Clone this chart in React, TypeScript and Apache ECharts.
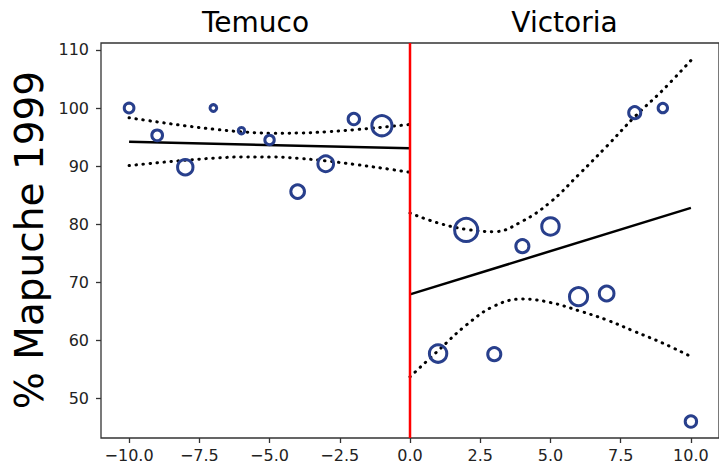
import React, { useEffect, useRef } from 'react';
import * as echarts from 'echarts';

// ---- data ----
const xTicks = [-10, -7.5, -5, -2.5, 0, 2.5, 5, 7.5, 10];
const yTicks = [50, 60, 70, 80, 90, 100, 110];

const temucoX = [-10, -9, -8, -7, -6, -5, -4, -3, -2, -1];
const temucoY = [100, 95.3, 89.8, 100, 96.1, 94.5, 85.6, 90.4, 98.1, 96.95];
const temucoW = [9.7, 10.7, 15.4, 6.7, 6.4, 9.4, 13.7, 15.7, 11.4, 20.1];

const victoriaX = [1, 2, 3, 4, 5, 6, 7, 8, 9, 10];
const victoriaY = [57.7, 79.0, 57.6, 76.2, 79.6, 67.5, 68.05, 99.2, 100, 46.0];
const victoriaW = [17.4, 23.1, 13.1, 13.1, 17.4, 18.1, 14.7, 12.1, 9.4, 11.4];

const fitTX = [-10, 0];
const fitTY = [94.2, 93.05];
const bandTX = [-10, -9, -8, -7, -6, -5, -4, -3, -2, -1, 0];
const bandTUpper = [98.32, 97.61, 96.94, 96.36, 95.91, 95.67, 95.68, 95.9, 96.25, 96.69, 97.17];
const bandTLower = [90.08, 90.57, 91.0, 91.36, 91.57, 91.58, 91.34, 90.9, 90.31, 89.65, 88.93];

const fitVX = [0, 10];
const fitVY = [67.9, 82.8];
const bandVX = [0, 1, 2, 3, 4, 5, 6, 7, 8, 9, 10];
const bandVUpper = [81.9, 80.2, 79.1, 78.7, 80.5, 83.8, 88.5, 93.4, 98.5, 103.1, 108.2];
const bandVLower = [53.7, 58.2, 62.6, 65.9, 67.1, 66.5, 65.1, 63.5, 61.5, 59.5, 57.2];

const X_MIN = -11;
const X_MAX = 11;
const Y_MIN = 43.16;
const Y_MAX = 111.2;

const FONT = '"DejaVu Sans", sans-serif';
const BLUE = '#283f8c';

const zip = (xs: number[], ys: number[]) => xs.map((x, i) => [x, ys[i]]);

const fmtX = (v: number) => (v < 0 ? '\u2212' : '') + Math.abs(v).toFixed(1);

export default function App() {
  const ref = useRef<HTMLDivElement>(null);
  useEffect(() => {
    const chart = echarts.init(ref.current!, null, { renderer: 'svg' });
    const dotted = {
      color: '#000',
      width: 3,
      type: [0.5, 6.5] as number[],
      cap: 'round' as const,
    };
    const option: any = {
      animation: false,
      grid: {
        left: 101,
        top: 43,
        right: -1,
        bottom: 29,
        show: true,
        borderColor: '#333',
        borderWidth: 1.3,
        backgroundColor: 'transparent',
      },
      xAxis: {
        type: 'value',
        min: X_MIN,
        max: X_MAX,
        splitLine: { show: false },
        axisLine: { show: false, onZero: false },
        axisTick: {
          show: true,
          customValues: xTicks,
          length: 5,
          lineStyle: { color: '#333', width: 1.3 },
        },
        axisLabel: {
          customValues: xTicks,
          formatter: fmtX,
          fontFamily: FONT,
          fontSize: 16,
          color: '#222',
          margin: 9,
        },
      },
      yAxis: {
        type: 'value',
        min: Y_MIN,
        max: Y_MAX,
        splitLine: { show: false },
        axisLine: { show: false, onZero: false },
        axisTick: {
          show: true,
          customValues: yTicks,
          length: 5,
          lineStyle: { color: '#333', width: 1.3 },
        },
        axisLabel: {
          customValues: yTicks,
          fontFamily: FONT,
          fontSize: 16,
          color: '#222',
          margin: 12,
        },
      },
      graphic: [
        {
          type: 'text',
          x: 255.5,
          y: 22,
          style: {
            text: 'Temuco',
            font: `28px ${FONT}`,
            fill: '#000',
            textAlign: 'center',
            textVerticalAlign: 'middle',
          },
        },
        {
          type: 'text',
          x: 564.5,
          y: 22,
          style: {
            text: 'Victoria',
            font: `28px ${FONT}`,
            fill: '#000',
            textAlign: 'center',
            textVerticalAlign: 'middle',
          },
        },
        {
          type: 'text',
          x: 29,
          y: 240,
          rotation: Math.PI / 2,
          style: {
            text: '% Mapuche 1999',
            font: `39px ${FONT}`,
            fill: '#000',
            textAlign: 'center',
            textVerticalAlign: 'middle',
          },
        },
      ],
      series: [
        {
          type: 'line',
          data: zip(bandTX, bandTUpper),
          smooth: 0.4,
          showSymbol: false,
          lineStyle: dotted,
          z: 2,
        },
        {
          type: 'line',
          data: zip(bandTX, bandTLower),
          smooth: 0.4,
          showSymbol: false,
          lineStyle: dotted,
          z: 2,
        },
        {
          type: 'line',
          data: zip(bandVX, bandVUpper),
          smooth: 0.4,
          showSymbol: false,
          lineStyle: dotted,
          z: 2,
        },
        {
          type: 'line',
          data: zip(bandVX, bandVLower),
          smooth: 0.4,
          showSymbol: false,
          lineStyle: dotted,
          z: 2,
        },
        {
          type: 'line',
          data: zip(fitTX, fitTY),
          showSymbol: false,
          lineStyle: { color: '#000', width: 2.5 },
          z: 3,
        },
        {
          type: 'line',
          data: zip(fitVX, fitVY),
          showSymbol: false,
          lineStyle: { color: '#000', width: 2.5 },
          z: 3,
        },
        {
          type: 'line',
          data: [
            [0, Y_MIN],
            [0, Y_MAX],
          ],
          showSymbol: false,
          lineStyle: { color: '#ff0000', width: 2.5 },
          z: 4,
        },
        {
          type: 'scatter',
          data: temucoX.map((x, i) => [x, temucoY[i], temucoW[i]]),
          symbol: 'circle',
          symbolSize: (v: number[]) => v[2],
          itemStyle: { color: 'rgba(0,0,0,0)', borderColor: BLUE, borderWidth: 3, opacity: 1 },
          z: 5,
        },
        {
          type: 'scatter',
          data: victoriaX.map((x, i) => [x, victoriaY[i], victoriaW[i]]),
          symbol: 'circle',
          symbolSize: (v: number[]) => v[2],
          itemStyle: { color: 'rgba(0,0,0,0)', borderColor: BLUE, borderWidth: 3, opacity: 1 },
          z: 5,
        },
      ],
    };
    chart.setOption(option);
    return () => chart.dispose();
  }, []);
  return (
    <div
      ref={ref}
      style={{ position: 'absolute', left: 0, top: 0, width: 719, height: 467 }}
    />
  );
}
